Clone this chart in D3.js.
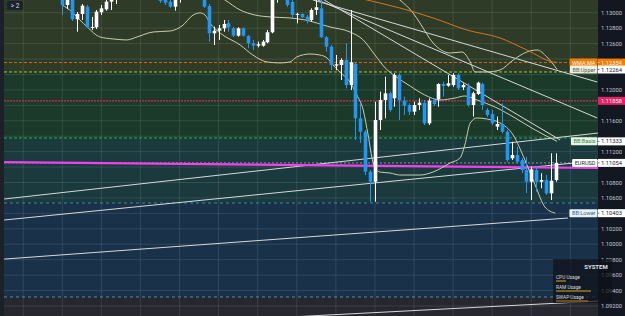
<!DOCTYPE html>
<html>
<head>
<meta charset="utf-8">
<script src="https://cdn.jsdelivr.net/npm/d3@7"></script>
<style>
  html, body { margin: 0; padding: 0; background: #131722; overflow: hidden; }
  svg { display: block; font-family: Roboto, "Noto Sans", sans-serif; }
</style>
</head>
<body>
<svg id="chart" width="625" height="316"></svg>
<script>
// candles (EURUSD), one per bar index 0..101
var opens = [1.13217,1.13100,1.13178,1.12915,1.12984,1.13078,1.12802,1.12811,1.13006,1.13044,
  1.13143,1.13191,1.13269,1.13346,1.13295,1.13424,1.13321,1.13243,1.13346,1.13243,
  1.13204,1.13191,1.13143,1.13078,1.13178,1.13269,1.13346,1.13269,1.13321,1.13204,
  1.13087,1.12733,1.12767,1.12798,1.12863,1.12798,1.12702,1.12798,1.12698,1.12604,
  1.12573,1.12573,1.12617,1.12746,1.13191,1.13269,1.13217,1.13139,1.12971,1.12984,
  1.12949,1.12906,1.13035,1.13057,1.12682,1.12560,1.12314,1.12323,1.12387,1.12063,
  1.12336,1.11632,1.11458,1.10940,1.10810,1.11610,1.11869,1.11956,1.11891,1.12193,
  1.11860,1.11804,1.11717,1.11804,1.11834,1.11567,1.11869,1.11878,1.12076,1.12054,
  1.12063,1.12193,1.12034,1.12041,1.11804,1.11947,1.12076,1.11739,1.11688,1.11523,
  1.11558,1.11458,1.11113,1.11156,1.11091,1.10962,1.10810,1.10962,1.10810,1.10832,
  1.10660,1.10832];
var highs = [1.13269,1.13217,1.13204,1.13009,1.13113,1.13100,1.12945,1.13035,1.13100,1.13165,
  1.13243,1.13321,1.13398,1.13424,1.13476,1.13476,1.13372,1.13398,1.13372,1.13295,
  1.13230,1.13217,1.13165,1.13204,1.13321,1.13398,1.13398,1.13372,1.13359,1.13243,
  1.13113,1.12819,1.12841,1.12906,1.12906,1.12815,1.12811,1.12811,1.12711,1.12647,
  1.12625,1.12647,1.12776,1.13230,1.13295,1.13295,1.13243,1.13165,1.12997,1.12993,
  1.12971,1.13057,1.13165,1.13165,1.12698,1.12582,1.12452,1.12409,1.12604,1.13035,
  1.12349,1.11830,1.11480,1.10962,1.11847,1.11977,1.12171,1.11977,1.12215,1.12215,
  1.11912,1.11826,1.11847,1.11891,1.11869,1.11891,1.11895,1.12085,1.12106,1.12193,
  1.12215,1.12215,1.12085,1.12085,1.11977,1.12106,1.12093,1.11765,1.11739,1.11653,
  1.11826,1.11480,1.11329,1.11264,1.11117,1.11134,1.11005,1.11005,1.10919,1.10897,
  1.11178,1.11178];
var lows = [1.12971,1.13048,1.12893,1.12754,1.12906,1.12802,1.12776,1.12789,1.12971,1.13026,
  1.13035,1.13113,1.13243,1.13243,1.13269,1.13269,1.13217,1.13191,1.13191,1.13178,
  1.13126,1.13100,1.13061,1.13026,1.13130,1.13217,1.13230,1.13230,1.13191,1.13061,
  1.12625,1.12582,1.12647,1.12754,1.12754,1.12685,1.12689,1.12689,1.12539,1.12517,
  1.12552,1.12560,1.12604,1.12733,1.13130,1.13165,1.13074,1.12928,1.12863,1.12928,
  1.12863,1.12884,1.12971,1.12673,1.12495,1.12258,1.12258,1.12128,1.12021,1.11999,
  1.11351,1.11312,1.10897,1.10551,1.10551,1.11480,1.11632,1.11717,1.11782,1.11610,
  1.11675,1.11675,1.11675,1.11739,1.11545,1.11545,1.11791,1.11782,1.11912,1.12041,
  1.12041,1.11999,1.11999,1.11782,1.11653,1.11934,1.11739,1.11649,1.11545,1.11480,
  1.11437,1.11069,1.11091,1.11049,1.10923,1.10664,1.10573,1.10681,1.10725,1.10638,
  1.10573,1.10810];
var closes = [1.13100,1.13178,1.12915,1.12984,1.13091,1.12811,1.12815,1.13013,1.13057,1.13143,
  1.13204,1.13269,1.13346,1.13295,1.13424,1.13321,1.13243,1.13346,1.13243,1.13191,
  1.13152,1.13130,1.13078,1.13178,1.13269,1.13346,1.13269,1.13321,1.13204,1.13078,
  1.12733,1.12767,1.12798,1.12854,1.12811,1.12702,1.12798,1.12702,1.12604,1.12573,
  1.12591,1.12625,1.12746,1.13191,1.13243,1.13204,1.13100,1.12971,1.12984,1.12941,
  1.12906,1.13035,1.13070,1.12682,1.12560,1.12323,1.12332,1.12387,1.12063,1.12358,
  1.11632,1.11458,1.10940,1.10810,1.11610,1.11869,1.11956,1.11739,1.12193,1.11869,
  1.11795,1.11717,1.11804,1.11834,1.11567,1.11860,1.11817,1.12076,1.12050,1.12085,
  1.12193,1.12021,1.12063,1.11804,1.11956,1.12093,1.11804,1.11675,1.11567,1.11558,
  1.11458,1.11091,1.11156,1.11069,1.10962,1.10810,1.10971,1.10810,1.10832,1.10660,
  1.10823,1.11054];

// bollinger bands + wma, as [bar index, price]
var bbUpper = [[61.0,1.13554],[66.1,1.13295],[69.1,1.13165],[71.8,1.12997],[73.2,1.12867],[75.9,1.12608],
  [79.4,1.12478],[81.8,1.12491],[83.5,1.12362],[84.5,1.12232],[86.9,1.12232],[89.6,1.12258],
  [92.3,1.12387],[95.1,1.12491],[97.2,1.12517],[99.2,1.12426],[101.3,1.12264]];
var bbBasis = [[28.2,1.13359],[33.3,1.13165],[36.4,1.13035],[39.4,1.12971],[42.5,1.12945],[46.6,1.12932],
  [49.7,1.12906],[54.8,1.12815],[58.9,1.12750],[61.6,1.12647],[64.0,1.12452],[66.1,1.12284],
  [68.1,1.12180],[71.2,1.12050],[74.2,1.11934],[77.3,1.11869],[80.4,1.11895],[82.4,1.11921],
  [84.9,1.11869],[88.6,1.11778],[92.7,1.11636],[96.8,1.11480],[101.3,1.11333]];
var bbLower = [[0,1.13100],[2.0,1.13009],[3.6,1.12906],[5.1,1.12815],[7.7,1.12686],[10.4,1.12660],
  [13.2,1.12647],[15.3,1.12686],[18.6,1.12750],[22.1,1.12763],[24.5,1.12828],[26.8,1.12971],
  [28.2,1.12997],[29.2,1.12971],[30.2,1.12867],[32.3,1.12737],[36.4,1.12582],[39.0,1.12452],
  [41.9,1.12362],[44.6,1.12349],[46.6,1.12362],[48.0,1.12426],[50.7,1.12465],[52.7,1.12452],
  [54.2,1.12413],[55.4,1.12323],[56.8,1.12232],[58.9,1.12102],[60.3,1.11934],[61.6,1.11739],
  [62.6,1.11415],[63.6,1.11065],[65.0,1.10936],[67.1,1.10923],[69.1,1.10897],[73.2,1.10897],
  [75.9,1.10936],[79.4,1.11053],[81.4,1.11117],[82.4,1.11286],[83.5,1.11571],[84.9,1.11636],
  [86.9,1.11623],[89.6,1.11571],[92.3,1.11415],[94.7,1.11091],[96.8,1.10767],[98.8,1.10482],
  [100.9,1.10403]];
var wma = [[56.8,1.13230],[62.4,1.13165],[65.0,1.13126],[69.1,1.13061],[75.9,1.12932],[82.8,1.12776],
  [89.6,1.12673],[95.1,1.12517],[100.4,1.12362],[101.3,1.12354]];

// drawn trend lines, [bar index, price] end points
var trendLines = [
  [[-11.9,1.10586],[109.7,1.11441]],
  [[-11.9,1.10314],[109.7,1.11084]],
  [[-11.9,1.09808],[103.5,1.10340]],
  [[38.4,1.09031],[109.7,1.09264]],
  [[51.3,1.13165],[109.5,1.12102]],
  [[52.3,1.13165],[109.5,1.11636]],
  [[53.6,1.13165],[101.9,1.11351]]
];
var magentaLine = [[-11.9,1.11065],[109.7,1.10988]];

// background zones split at these prices
var zoneEdges = [1.12232, 1.11377, 1.10535, 1.09317];

// axis
var yTicks = [1.092,1.094,1.096,1.098,1.100,1.102,1.104,1.106,1.108,1.110,
  1.112,1.114,1.116,1.118,1.120,1.122,1.124,1.126,1.128,1.130];
var timeGrid = [-8,0,8,16,24,32,40,48,56,64,72,80,88,96,104];

// price tags on the right scale
var tagNames  = ["WMA:MA", "BB:Upper", "", "BB:Basis", "EURUSD", "BB:Lower"];
var tagValues = [1.12354, 1.12264, 1.11858, 1.11333, 1.11054, 1.10403];
var sysRows = ["CPU Usage", "RAM Usage", "SWAP Usage"];

//
var W = 625, H = 316, plotL = 4, plotR = 598;
var svg = d3.select("#chart");
var x = d3.scaleLinear().domain([0, 101]).range([62.3, 555.7]);
var y = d3.scaleLinear().domain([1.092, 1.13]).range([306, 12.7]);
var fmt = d3.format(".5f");

svg.append("defs").append("clipPath").attr("id", "plot")
  .append("rect").attr("x", plotL).attr("y", 0).attr("width", plotR - plotL).attr("height", H);

var plot = svg.append("g").attr("clip-path", "url(#plot)");

// zones
var zoneFill = ["#2d3b27", "#1b3a29", "#1a3a3e", "#1a3249", "#27282f"];
zoneFill.forEach(function(c, i) {
  var top = i === 0 ? 0 : y(zoneEdges[i - 1]);
  var bot = i === zoneEdges.length ? H : y(zoneEdges[i]);
  plot.append("rect").attr("x", plotL).attr("y", top)
    .attr("width", plotR - plotL).attr("height", bot - top).attr("fill", c);
});

// grid
plot.selectAll("line.hg").data(yTicks).enter().append("line")
  .attr("x1", plotL).attr("x2", plotR)
  .attr("y1", function(d) { return y(d); }).attr("y2", function(d) { return y(d); })
  .attr("stroke", "rgba(255,255,255,0.1)").attr("stroke-width", 1);
plot.selectAll("line.vg").data(timeGrid).enter().append("line")
  .attr("y1", 0).attr("y2", H)
  .attr("x1", function(d) { return x(d); }).attr("x2", function(d) { return x(d); })
  .attr("stroke", "rgba(255,255,255,0.1)").attr("stroke-width", 1);

// horizontal levels
function hline(v, color, dash, w) {
  plot.append("line").attr("x1", plotL).attr("x2", plotR)
    .attr("y1", y(v)).attr("y2", y(v))
    .attr("stroke", color).attr("stroke-width", w || 1)
    .attr("stroke-dasharray", dash);
}
hline(tagValues[0], "#c86a1c", "3,2");
hline(zoneEdges[0], "#a9c23a", "3,2");
hline(tagValues[2], "#c7304f", "2,1", 1.2);
hline(zoneEdges[1], "#2fae4a", "3,2");
hline(tagValues[4], "#8d9196", "2,2");
hline(zoneEdges[2], "#3f86a8", "3,3");
hline(zoneEdges[3], "#4f8fb5", "3,3");

// trend lines
var lin = d3.line().x(function(d) { return x(d[0]); }).y(function(d) { return y(d[1]); });
trendLines.forEach(function(t) {
  plot.append("path").attr("d", lin(t)).attr("fill", "none")
    .attr("stroke", "#d6d8da").attr("stroke-width", 1);
});
plot.append("path").attr("d", lin(magentaLine)).attr("fill", "none")
  .attr("stroke", "#f23ff0").attr("stroke-width", 2.2);

// bands
var smooth = d3.line().x(function(d) { return x(d[0]); }).y(function(d) { return y(d[1]); })
  .curve(d3.curveMonotoneX);
[bbUpper, bbBasis, bbLower].forEach(function(b) {
  plot.append("path").attr("d", smooth(b)).attr("fill", "none")
    .attr("stroke", "#c9cfae").attr("stroke-width", 1);
});
plot.append("path").attr("d", smooth(wma)).attr("fill", "none")
  .attr("stroke", "#d9751c").attr("stroke-width", 1);

// candles
var bars = d3.range(opens.length);
var bodyW = 3.6;
var cg = plot.append("g");
bars.forEach(function(i) {
  var up = closes[i] >= opens[i];
  var col = up ? "#ffffff" : "#2196f3";
  var cx = Math.round(x(i)) + 0.5;
  cg.append("line").attr("x1", cx).attr("x2", cx)
    .attr("y1", y(highs[i])).attr("y2", y(lows[i]))
    .attr("stroke", col).attr("stroke-width", 1);
  var t = y(Math.max(opens[i], closes[i])), b = y(Math.min(opens[i], closes[i]));
  cg.append("rect").attr("x", cx - bodyW / 2).attr("y", t)
    .attr("width", bodyW).attr("height", Math.max(1, b - t)).attr("fill", col);
});

// left strip + axis area
svg.append("rect").attr("x", 0).attr("y", 0).attr("width", plotL).attr("height", H).attr("fill", "#1c2029");
svg.append("rect").attr("x", plotR).attr("y", 0).attr("width", W - plotR).attr("height", H).attr("fill", "#131722");

svg.selectAll("text.tick").data(yTicks.filter(function(v) {
    return tagValues.every(function(t) { return Math.abs(y(t) - y(v)) > 6.5; });
  })).enter().append("text")
  .attr("x", 611.5).attr("y", function(d) { return y(d) + 2; })
  .attr("text-anchor", "middle").attr("font-size", 5.8).attr("fill", "#c3c6cc")
  .text(function(d) { return fmt(d); });

// price tags
var tagStyle = [
  {nameFill: "#f57c00", nameText: "#ffffff", valFill: "#f57c00", valText: "#ffffff"},
  {nameFill: "#eef0e4", nameText: "#5b6050", valFill: "#ffffff", valText: "#20242c"},
  {nameFill: null,      nameText: null,      valFill: "#e91e63", valText: "#ffffff"},
  {nameFill: "#e9f5ea", nameText: "#2e8b3e", valFill: "#ffffff", valText: "#20242c"},
  {nameFill: "#ffffff", nameText: "#20242c", valFill: "#ffffff", valText: "#20242c"},
  {nameFill: "#e6f0f6", nameText: "#3b6a8a", valFill: "#ffffff", valText: "#20242c"}
];
tagValues.forEach(function(v, i) {
  var s = tagStyle[i], cy = y(v);
  var g = svg.append("g");
  g.append("rect").attr("x", plotR).attr("y", cy - 4).attr("width", W - plotR).attr("height", 8)
    .attr("fill", s.valFill);
  g.append("text").attr("x", 611.5).attr("y", cy + 2).attr("text-anchor", "middle")
    .attr("font-size", 5.8).attr("fill", s.valText).text(fmt(v));
  if (tagNames[i]) {
    var t = g.append("text").attr("x", plotR - 2.5).attr("y", cy + 2).attr("text-anchor", "end")
      .attr("font-size", 5.6).attr("fill", s.nameText).text(tagNames[i]);
    var tw = t.node().getComputedTextLength();
    g.insert("rect", "text").attr("x", plotR - tw - 5).attr("y", cy - 4)
      .attr("width", tw + 4.5).attr("height", 8).attr("rx", 1).attr("fill", s.nameFill);
    g.append("line").attr("x1", plotR - 0.5).attr("x2", plotR + 1.5).attr("y1", cy).attr("y2", cy)
      .attr("stroke", s.valText).attr("stroke-width", 0.6);
  }
});

// top-left collapse button
svg.append("rect").attr("x", 7).attr("y", 1).attr("width", 16).attr("height", 9).attr("rx", 1.5)
  .attr("fill", "#1d2230");
svg.append("text").attr("x", 15).attr("y", 8).attr("text-anchor", "middle")
  .attr("font-size", 6.5).attr("fill", "#d8dbe0").text("> 2");

// system panel (semi transparent, axis labels show through)
svg.append("rect").attr("x", 553).attr("y", 259).attr("width", 59).attr("height", 44)
  .attr("fill", "rgba(14,17,24,0.72)");
svg.append("text").attr("x", 596).attr("y", 269).attr("text-anchor", "middle")
  .attr("font-size", 6).attr("font-weight", "bold").attr("fill", "#dfe2e6").text("SYSTEM");
var barLen = [10, 35, 32];
var barCol = ["#d89a1c", "#d8a51c", "#b9771c"];
sysRows.forEach(function(r, i) {
  var ry = 279 + i * 10;
  svg.append("text").attr("x", 556).attr("y", ry).attr("font-size", 4.8)
    .attr("fill", "#d7dade").text(r);
  svg.append("line").attr("x1", 556).attr("x2", 556 + barLen[i]).attr("y1", ry + 2).attr("y2", ry + 2)
    .attr("stroke", barCol[i]).attr("stroke-width", 1.1);
});
</script>
</body>
</html>
